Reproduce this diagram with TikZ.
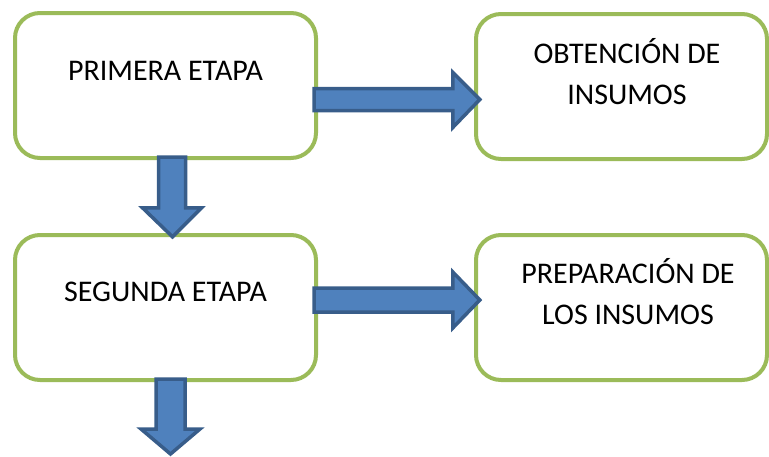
\documentclass[tikz,border=0pt]{standalone}
\usepackage{fontspec}
\setmainfont{Carlito}
\usetikzlibrary{calc}
\definecolor{boxgreen}{HTML}{9BBB59}
\definecolor{arrowfill}{HTML}{4F81BD}
\definecolor{arrowline}{HTML}{385D8A}
\tikzset{
  stagebox/.style={draw=boxgreen, line width=4pt, rounded corners=25pt, fill=white},
  blockarrow/.style={draw=arrowline, fill=arrowfill, line width=3.5pt, line join=miter},
  boxtext/.style={font=\fontsize{30}{41}\selectfont, align=center, inner sep=0pt}
}
\begin{document}
\begin{tikzpicture}[x=1pt,y=-1pt]
\useasboundingbox (0,0) rectangle (769,456);
% boxes
\draw[stagebox] (15,13) rectangle (316,158);
\draw[stagebox] (476,14) rectangle (767,159);
\draw[stagebox] (15,235) rectangle (316,380);
\draw[stagebox] (476,235) rectangle (767,380);
\node[inner sep=0pt, minimum width=301pt, minimum height=145pt] (b1) at (165.5,85.5) {};
\node[inner sep=0pt, minimum width=291pt, minimum height=145pt] (b2) at (621.5,86.5) {};
\node[inner sep=0pt, minimum width=301pt, minimum height=145pt] (b3) at (165.5,307.5) {};
\node[inner sep=0pt, minimum width=291pt, minimum height=145pt] (b4) at (621.5,307.5) {};
% texts
\node[boxtext, anchor=base] (t1) at ($(b1.center)+(0,-5)$) {PRIMERA ETAPA};
\node[boxtext, anchor=base] (t2) at ($(b2.center)+(5.5,17.5)$) {OBTENCIÓN DE\\INSUMOS};
\node[boxtext, anchor=base] (t3) at ($(b3.center)+(0,-6)$) {SEGUNDA ETAPA};
\node[boxtext, anchor=base] (t4) at ($(b4.center)+(6.5,16.5)$) {PREPARACIÓN DE\\LOS INSUMOS};
% horizontal arrow 1
\coordinate (a1s) at ($(b1.east)+(-2,14)$);
\coordinate (a1e) at ($(b2.west)+(4,13)$);
\draw[blockarrow] ($(a1s)+(0,-11)$) -- ($(a1s -| a1e)+(-27,-11)$) -- ($(a1s -| a1e)+(-27,-27)$)
  -- (a1e) -- ($(a1s -| a1e)+(-27,28)$) -- ($(a1s -| a1e)+(-27,11)$) -- ($(a1s)+(0,11)$) -- cycle;
% horizontal arrow 2
\coordinate (a2s) at ($(b3.east)+(-2,-7.5)$);
\coordinate (a2e) at ($(b4.west)+(4,-7.5)$);
\draw[blockarrow] ($(a2s)+(0,-12)$) -- ($(a2s -| a2e)+(-27,-12)$) -- ($(a2s -| a2e)+(-27,-28)$)
  -- (a2e) -- ($(a2s -| a2e)+(-27,28)$) -- ($(a2s -| a2e)+(-27,12)$) -- ($(a2s)+(0,12)$) -- cycle;
% vertical arrow 1
\coordinate (d1s) at ($(b1.south)+(6.5,-1)$);
\coordinate (d1e) at ($(b3.north)+(7,2)$);
\draw[blockarrow] ($(d1s)+(-13.5,0)$) -- ($(d1s |- d1e)+(-13.5,-29)$) -- ($(d1s |- d1e)+(-29.5,-29)$)
  -- (d1e) -- ($(d1s |- d1e)+(29.5,-29)$) -- ($(d1s |- d1e)+(13.5,-29)$) -- ($(d1s)+(13.5,0)$) -- cycle;
% vertical arrow 2 (free end)
\coordinate (d2s) at ($(b3.south)+(5,-1)$);
\coordinate (d2e) at (170.5,454);
\draw[blockarrow] ($(d2s)+(-14.5,0)$) -- ($(d2s |- d2e)+(-14.5,-25)$) -- ($(d2s |- d2e)+(-29.5,-25)$)
  -- (d2e) -- ($(d2s |- d2e)+(29.5,-25)$) -- ($(d2s |- d2e)+(14.5,-25)$) -- ($(d2s)+(14.5,0)$) -- cycle;
\end{tikzpicture}
\end{document}
